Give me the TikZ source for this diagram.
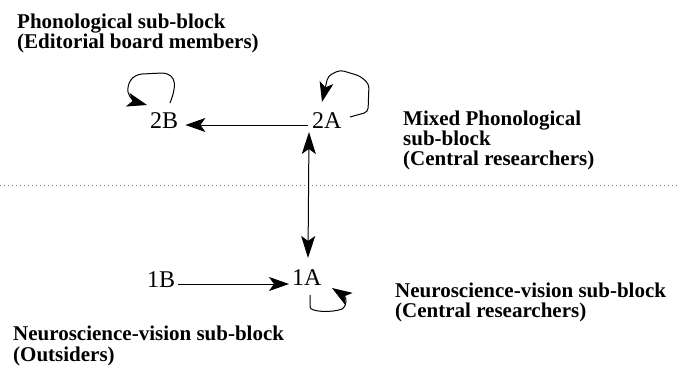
\documentclass[tikz,border=0pt]{standalone}
\usepackage{fontspec}
\setmainfont{Liberation Serif}
\usetikzlibrary{arrows.meta}
\begin{document}
\begin{tikzpicture}[x=1pt,y=-1pt,
  lbl/.style={anchor=base west,inner sep=0pt,font=\fontsize{21}{21}\selectfont\bfseries},
  num/.style={anchor=base west,inner sep=0pt,font=\fontsize{24}{24}\selectfont},
  conn/.style={line width=1pt,-{Stealth[length=20pt,width=14pt,inset=5pt]}},
  dconn/.style={line width=1pt,{Stealth[length=22pt,width=14pt,inset=5pt]}-{Stealth[length=22pt,width=14pt,inset=5pt]}},
  sep/.style={gray,line width=0.8pt,dash pattern=on 1pt off 3pt}]
\useasboundingbox[fill=white] (0,0) rectangle (678,375);
% labels
\node[lbl] (pa) at (17,28) {Phonological sub-block};
\node[lbl] (pb) at (17,48) {(Editorial board members)};
\node[lbl] (ma) at (403,125) {Mixed Phonological};
\node[lbl] (mb) at (403,145) {sub-block};
\node[lbl] (mc) at (403,165) {(Central researchers)};
\node[lbl] (na) at (395,297) {Neuroscience-vision sub-block};
\node[lbl] (nb) at (395,317) {(Central researchers)};
\node[lbl] (oa) at (13,340) {Neuroscience-vision sub-block};
\node[lbl] (ob) at (13,361) {(Outsiders)};
% block nodes
\node[num] (n2B) at (150,128) {2B};
\node[num] (n2A) at (312,128) {2A};
\node[num] (n1B) at (147,287) {1B};
\node[num] (n1A) at (292,285) {1A};
% separator
\draw[sep] (0,185) -- (678,185);
% connectors
\draw[conn] ([shift={(-4pt,3pt)}]n2A.base west) -- ([shift={(7pt,3pt)}]n2B.base east);
\draw[dconn] ([shift={(-3pt,-4pt)}]n2A.base west) -- ([shift={(16pt,11pt)}]n1A.north west);
\draw[conn] ([shift={(3pt,3pt)}]n1B.base east) -- ([shift={(-3pt,1pt)}]n1A.base west);
% self loops
\begin{scope}[shift={(n2B.base west)}]
  \draw[conn] (20,-25) .. controls (26,-40) and (28,-54) .. (12,-55) -- (-8,-54)
     .. controls (-18,-53) and (-23,-45) .. (-22,-36) .. controls (-21,-30) and (-14,-26) .. (-3,-23);
\end{scope}
\begin{scope}[shift={(n2A.base west)}]
  \draw[conn,rounded corners=4pt] (38,-11) -- (56,-16) -- (57,-44) -- (48,-52) -- (28,-58) -- (16,-52) -- (10,-26);
\end{scope}
\begin{scope}[shift={(n1A.base west)}]
  \draw[conn] (18,10) -- (18,22) .. controls (18,27) and (40,28) .. (50,24) .. controls (56,20) and (54,12) .. (40,3);
\end{scope}
\end{tikzpicture}
\end{document}
